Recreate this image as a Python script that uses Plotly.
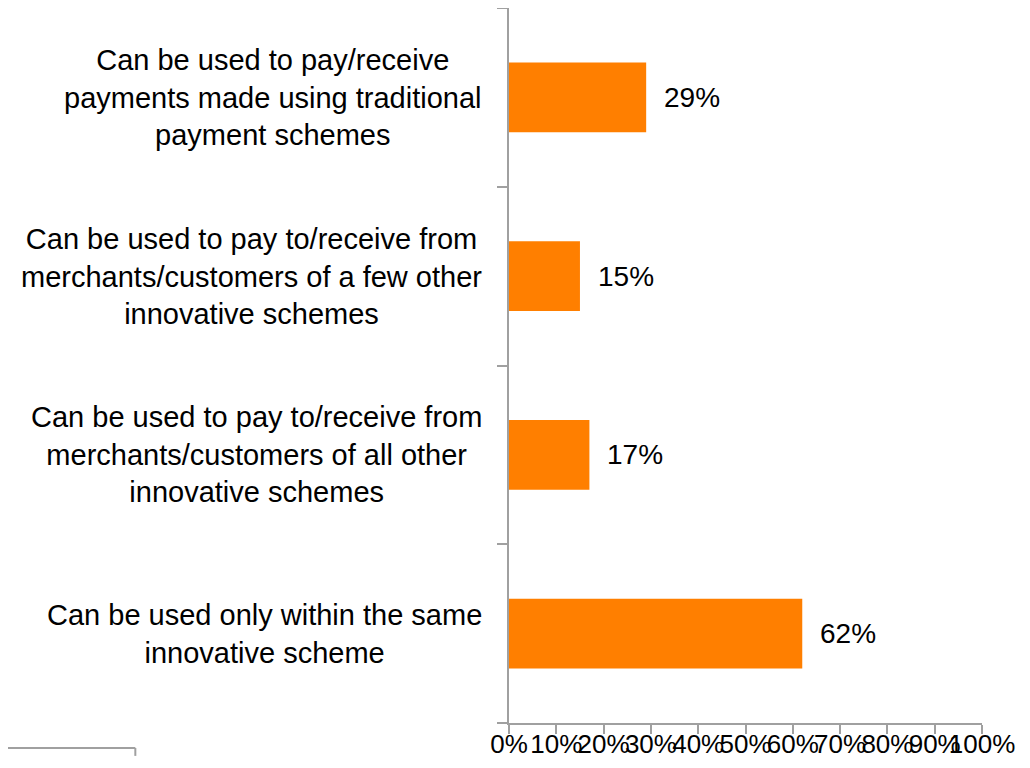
import plotly.graph_objects as go

categories = [
    "Can be used to pay/receive<br>payments made using traditional<br>payment schemes",
    "Can be used to pay to/receive from<br>merchants/customers of a few other<br>innovative schemes",
    "Can be used to pay to/receive from<br>merchants/customers of all other<br>innovative schemes",
    "Can be used only within the same<br>innovative scheme",
]
values = [29, 15, 17, 62]
value_labels = ["29%", "15%", "17%", "62%"]
x_ticks = [0, 10, 20, 30, 40, 50, 60, 70, 80, 90, 100]
x_tick_labels = ["0%", "10%", "20%", "30%", "40%", "50%", "60%", "70%", "80%", "90%", "100%"]

FONT = "Liberation Sans, Arial, sans-serif"
AXIS = "#A0A0A0"
FS = 29

fig = go.Figure()
fig.add_trace(go.Bar(
    x=values, y=categories, orientation="h",
    marker=dict(color="#FF7F00", line=dict(width=0)),
    width=0.39, hoverinfo="skip",
))

annotations = []
for c, v, lab in zip(categories, values, value_labels):
    annotations.append(dict(
        x=v, y=c, xref="x", yref="y", text=lab, showarrow=False,
        xanchor="left", xshift=16, font=dict(size=28, color="black", family=FONT),
    ))
    annotations.append(dict(
        x=0, y=c, xref="paper", yref="y", text=c, showarrow=False,
        xanchor="right", xshift=-25, align="center",
        font=dict(size=FS, color="black", family=FONT),
    ))

fig.update_layout(
    width=1022, height=760,
    margin=dict(l=501, r=48, t=0, b=45),
    paper_bgcolor="white", plot_bgcolor="white",
    showlegend=False,
    font=dict(family=FONT, color="black", size=FS),
    annotations=annotations,
    xaxis=dict(
        range=[0, 100], tickvals=x_ticks, ticktext=x_tick_labels, tickangle=0,
        automargin=False, ticklabelstandoff=-12,
        showgrid=False, zeroline=False, showline=True, linecolor=AXIS, linewidth=2,
        ticks="outside", ticklen=9, tickcolor=AXIS, tickwidth=2,
        tickfont=dict(size=26, color="black", family=FONT),
    ),
    yaxis=dict(
        type="category", categoryorder="array", categoryarray=categories[::-1],
        range=[-0.5, 3.5], showticklabels=False, tickson="boundaries",
        automargin=False,
        showgrid=False, zeroline=False, showline=True, linecolor=AXIS, linewidth=2,
        ticks="outside", ticklen=10, tickcolor=AXIS, tickwidth=2,
    ),
    shapes=[
        dict(type="line", xref="paper", yref="paper", x0=-1.1, x1=-0.79,
             y0=-0.035, y1=-0.035, line=dict(color=AXIS, width=2)),
        dict(type="line", xref="paper", yref="paper", x0=-0.79, x1=-0.79,
             y0=-0.035, y1=-0.046, line=dict(color=AXIS, width=2)),
    ],
)

fig.write_html("out.html")
